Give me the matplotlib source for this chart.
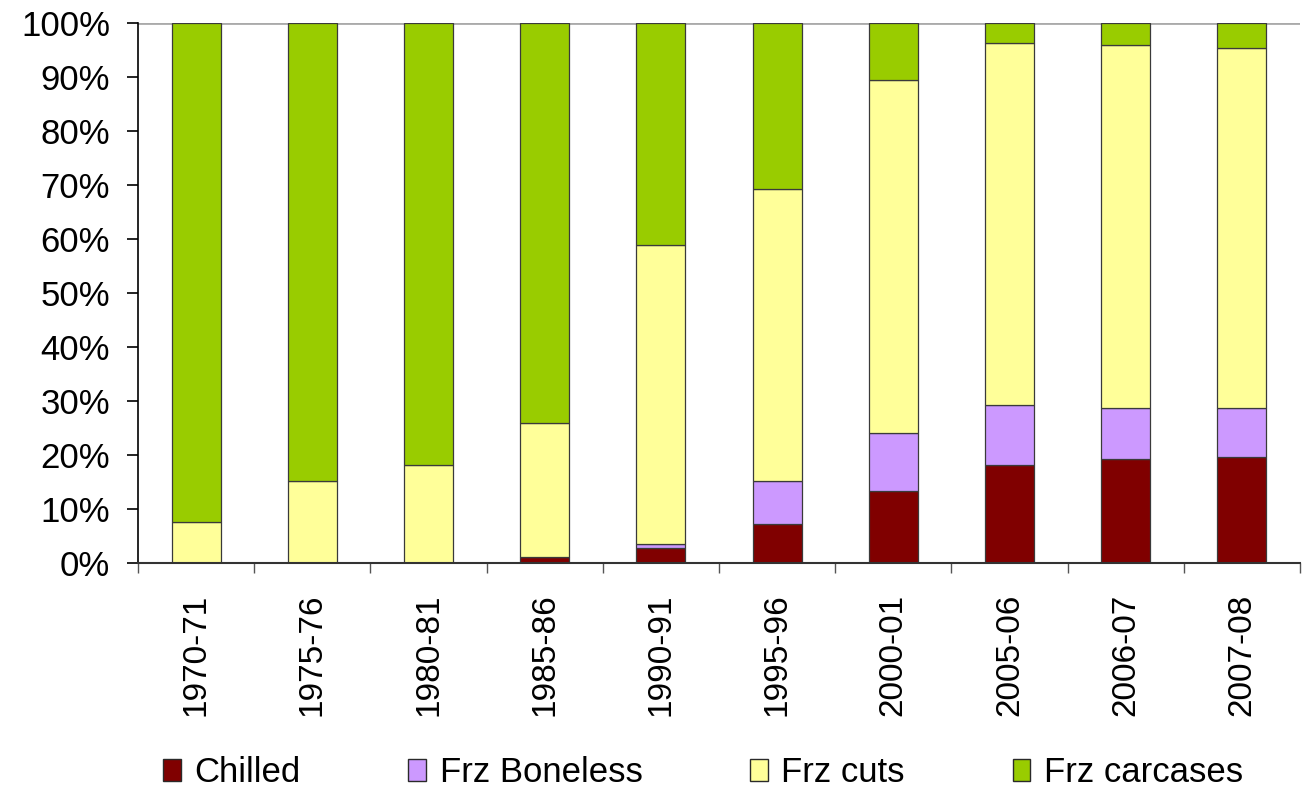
import matplotlib
matplotlib.use("Agg")
from matplotlib import pyplot as plt
from matplotlib.patches import Patch
from matplotlib.ticker import FixedLocator
import numpy as np

periods = ["1970-71", "1975-76", "1980-81", "1985-86", "1990-91",
           "1995-96", "2000-01", "2005-06", "2006-07", "2007-08"]
# shares in percent
chilled = [0.0, 0.0, 0.0, 1.2, 2.8, 7.2, 13.3, 18.1, 19.2, 19.6]
frz_boneless = [0.0, 0.0, 0.0, 0.0, 0.8, 8.0, 10.7, 11.2, 9.5, 9.1]
frz_cuts = [7.6, 15.2, 18.1, 24.8, 55.2, 54.1, 65.5, 67.0, 67.3, 66.7]
frz_carcases = [92.4, 84.8, 81.9, 74.0, 41.2, 30.7, 10.5, 3.7, 4.0, 4.6]

series = [
    ("Chilled", chilled, "#800000"),
    ("Frz Boneless", frz_boneless, "#CC99FF"),
    ("Frz cuts", frz_cuts, "#FFFF99"),
    ("Frz carcases", frz_carcases, "#99CC00"),
]

plt.rcParams["font.family"] = ["Liberation Sans", "DejaVu Sans"]

fig = plt.figure(figsize=(13.07, 7.89), dpi=100)
ax = fig.add_axes([138 / 1307, 1 - 563 / 789, (1300 - 138) / 1307, (563 - 23) / 789])

x = np.arange(len(periods))
bottom = np.zeros(len(periods))
for name, vals, col in series:
    ax.bar(x, vals, width=0.42, bottom=bottom, color=col,
           edgecolor="#3a3a3a", linewidth=0.9)
    bottom += np.array(vals)

ax.set_xlim(-0.5, len(periods) - 0.5)
ax.set_ylim(0, 100)
ax.set_yticks(np.arange(0, 101, 10))
ax.set_yticklabels(["%d%%" % v for v in range(0, 101, 10)], fontsize=25)
ax.set_xticks(x)
ax.set_xticklabels(periods, rotation=90, fontsize=24)
ax.tick_params(axis="x", length=0, pad=22)
ax.xaxis.set_minor_locator(FixedLocator(np.arange(-0.5, len(periods), 1)))
ax.tick_params(axis="x", which="minor", length=7, width=1, color="#555555")
ax.tick_params(axis="y", length=8, width=1.2, pad=12)

for s in ["right", "top"]:
    ax.spines[s].set_visible(False)
ax.spines["left"].set_linewidth(1.2)
ax.spines["bottom"].set_linewidth(1.5)
ax.spines["bottom"].set_color("#333333")
ax.axhline(100, color="#aaaaaa", linewidth=2, zorder=0)

handles = [Patch(facecolor=col, edgecolor="#2a2a2a", label=name) for name, _, col in series]
fig.legend(handles=handles, loc="center", bbox_to_anchor=(0.538, 1 - 773 / 789),
           ncol=4, frameon=False, fontsize=25, handlelength=0.5, handleheight=0.6,
           handletextpad=0.4, columnspacing=3.1)

fig.savefig("out.png", dpi=100)
